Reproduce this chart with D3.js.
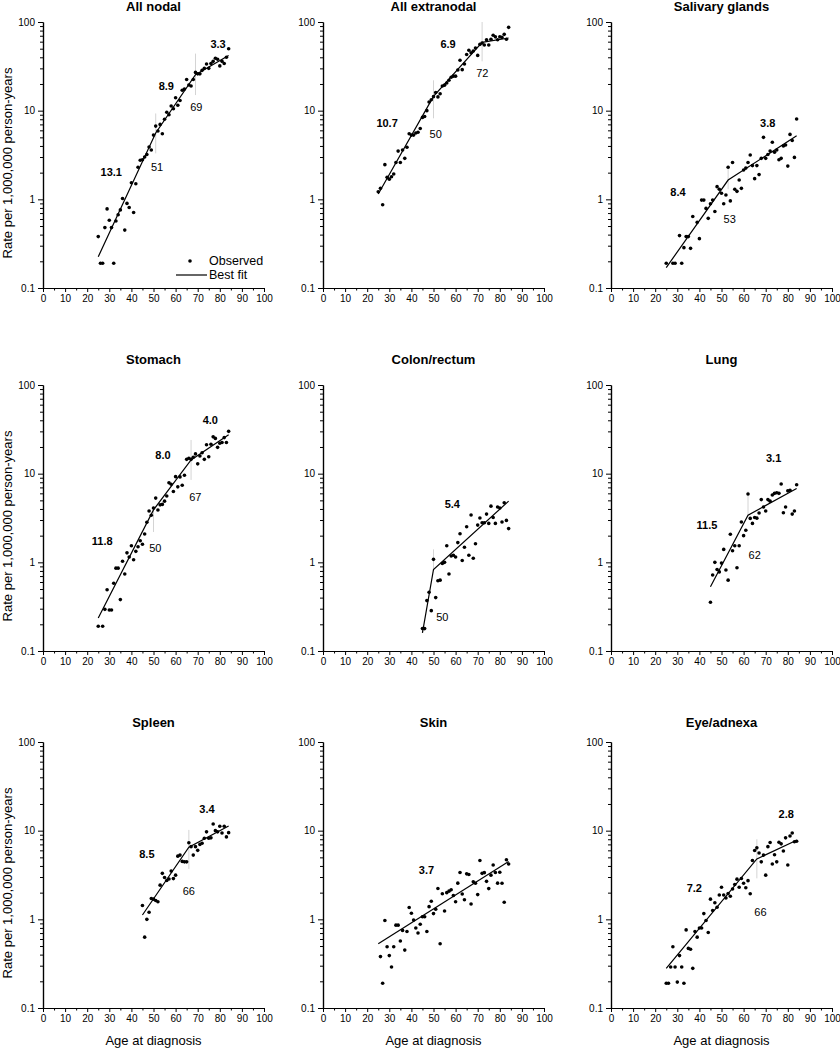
<!DOCTYPE html>
<html><head><meta charset="utf-8">
<script src="https://cdn.jsdelivr.net/npm/d3@7"></script>
<style>
body{margin:0;background:#fff}
svg{display:block}
text{font-family:"Liberation Sans",Arial,Helvetica,sans-serif;fill:#000}
</style>
</head><body>
<svg id="chart" width="840" height="1050"></svg>
<script>
// ---------------- DATA ----------------
const panelTitles = ["All nodal","All extranodal","Salivary glands","Stomach","Colon/rectum","Lung","Spleen","Skin","Eye/adnexa"];
const xTickValues = [0,10,20,30,40,50,60,70,80,90,100];
const yTickValues = [0.1,1,10,100];
const yTickLabels = ["0.1","1","10","100"];
const yAxisTitle = "Rate per 1,000,000 person-years";
const xAxisTitle = "Age at diagnosis";
const legendLabels = ["Observed","Best fit"];

const ages25to84 = [25,26,27,28,29,30,31,32,33,34,35,36,37,38,39,40,41,42,43,44,45,46,47,48,49,50,51,52,53,54,55,56,57,58,59,60,61,62,63,64,65,66,67,68,69,70,71,72,73,74,75,76,77,78,79,80,81,82,83,84];
const ages45to84 = [45,46,47,48,49,50,51,52,53,54,55,56,57,58,59,60,61,62,63,64,65,66,67,68,69,70,71,72,73,74,75,76,77,78,79,80,81,82,83,84];

// All nodal
const nodalAges = ages25to84;
const nodalRates = [0.38,0.19,0.19,0.48,0.78,0.58,0.48,0.19,0.57,0.67,0.76,1.02,0.45,0.90,0.81,1.54,0.71,1.5,2.3,2.76,2.8,3.0,3.2,3.9,3.6,5.3,6.7,5.9,7.0,5.5,8.0,9.6,9.0,11.3,10.5,14,11.5,13,17,17.5,22.5,19.5,19,22.5,27,26,26,28.5,30,33.6,30,34,36,39,38,32,36,34,40,50];
const nodalFit = [[25,0.225],[51,5.6],[69,25.5],[84,42]];
const nodalBreakBars = [[51,3.3,9.3],[69,15,44]];
const nodalLabels = [[30.9,2.05,"13.1",1],[51.6,2.33,"51",0],[55.8,19,"8.9",1],[69.4,10.9,"69",0],[79.2,56,"3.3",1]];

// All extranodal
const extraAges = ages25to84;
const extraRates = [1.22,1.33,0.87,2.46,1.77,1.69,1.8,1.93,2.6,3.5,2.6,3.6,2.9,3.86,5.5,5.3,5.3,5.6,5.7,6.3,8.4,8.6,10,12.5,13.3,14.4,16,14.3,15.5,19,19.4,20.5,22,23.8,24.5,24.5,28.8,37,29,33.6,43,48,45,47,51,42,56,58,55,63,55,64,71,68,63,68,67,72.6,64,87];
const extraFit = [[25,1.15],[50,14.5],[72,59],[84,66]];
const extraBreakBars = [[50,8.2,22],[72,36,100]];
const extraLabels = [[29,7.3,"10.7",1],[51,5.5,"50",0],[56.6,56,"6.9",1],[72.1,26.8,"72",0]];

// Salivary glands
const salivaryAges = [25,28,29,31,32,33,34,35,36,37,39,40,41,42,43,44,45,46,47,48,49,50,51,52,53,54,55,56,57,58,59,60,61,62,63,64,65,66,67,68,69,70,71,72,73,74,75,76,77,78,79,80,81,82,83,84];
const salivaryRates = [0.19,0.19,0.19,0.39,0.19,0.285,0.38,0.38,0.28,0.64,0.55,0.36,0.98,0.98,0.79,0.61,0.89,0.98,0.73,1.39,1.3,1.17,0.89,1.12,2.3,0.96,2.6,1.3,1.23,1.65,1.33,2.14,2.25,2.6,3.16,2.4,1.71,2.4,1.9,2.9,5.0,2.9,3.2,3.5,4.4,3.4,3.6,2.8,2.9,4.0,4.1,2.37,5.4,4.6,2.97,8.05];
const salivaryFit = [[25,0.17],[53,1.65],[84,5.2]];
const salivaryBreakBars = [[53,1.3,2.4]];
const salivaryLabels = [[30.3,1.19,"8.4",1],[53.7,0.6,"53",0],[70.9,7.3,"3.8",1]];

// Stomach
const stomachAges = [25,27,28,29,30,31,32,33,34,35,36,37,38,39,40,41,42,43,44,45,46,47,48,49,50,51,52,53,54,55,56,57,58,59,60,61,62,63,64,65,66,67,68,69,70,71,72,73,74,75,76,77,78,79,80,81,82,83,84];
const stomachRates = [0.19,0.19,0.295,0.49,0.29,0.29,0.58,0.86,0.86,0.38,1.03,0.74,1.28,1.15,1.54,1.07,1.33,1.5,1.75,1.6,2.09,2.83,3.8,3.4,4.1,5.3,3.9,4.45,4.5,4.9,5.6,7.9,7.6,6.3,9.25,7.1,9.2,7.4,9.6,14.5,14.9,14.5,15.3,16.7,12.9,15.8,17.2,14.5,21.2,15.5,21.5,26,25,19.8,22,22.5,25.5,22.5,30];
const stomachFit = [[25,0.235],[50,3.9],[67,14.3],[84,27.5]];
const stomachBreakBars = [[50,2.2,4.3],[67,8.5,24]];
const stomachLabels = [[26.8,1.74,"11.8",1],[50.8,1.44,"50",0],[54.3,16.2,"8.0",1],[68.9,5.4,"67",0],[75.7,40,"4.0",1]];

// Colon/rectum
const colonAges = ages45to84;
const colonRates = [0.179,0.179,0.37,0.46,0.285,1.08,0.40,0.62,0.63,0.97,1.0,1.54,0.74,1.18,1.2,1.15,1.67,2.1,1.05,1.48,2.52,1.2,3.42,1.11,1.62,2.63,3.16,2.8,2.8,3.5,2.75,4.3,3.2,2.75,4.2,4.1,2.85,4.7,2.97,2.4];
const colonFit = [[45,0.16],[50,0.83],[84,4.9]];
const colonBreakBars = [[50,0.8,1.4]];
const colonLabels = [[58.5,4.55,"5.4",1],[54,0.24,"50",0]];

// Lung
const lungAges = ages45to84;
const lungRates = [0.354,0.72,1.0,0.83,0.78,0.98,1.4,0.82,0.63,2.07,1.35,1.54,0.87,1.54,2.85,2.0,2.3,5.9,3.13,2.75,3.2,3.15,3.6,5.1,4.2,3.8,5.1,4.9,5.75,6.0,6.1,6.0,7.65,3.63,4.2,6.4,6.5,3.5,3.8,7.5];
const lungFit = [[45,0.53],[62,3.4],[84,6.8]];
const lungBreakBars = [[62,3.3,6.3]];
const lungLabels = [[43.4,2.64,"11.5",1],[65,1.19,"62",0],[73.6,14.9,"3.1",1]];

// Spleen
const spleenAges = ages45to84;
const spleenRates = [1.43,0.63,1.0,1.2,1.72,1.69,1.63,1.58,2.43,3.3,2.96,2.74,2.85,3.5,2.88,3.15,5.16,5.3,4.5,4.45,4.45,7.3,6.6,5.3,6.6,6.0,7.0,7.2,8.2,9.7,8.2,8.3,11.9,10.0,9.7,11.2,9.4,11.2,8.5,9.5];
const spleenFit = [[45,1.12],[66,6.5],[84,11.3]];
const spleenBreakBars = [[66,3.7,10.2]];
const spleenLabels = [[47,5.5,"8.5",1],[66,2.08,"66",0],[74.2,17.7,"3.4",1]];

// Skin
const skinAges = [26,27,28,29,30,31,32,33,34,35,36,37,38,39,40,41,42,43,44,45,46,47,48,49,50,51,52,53,54,55,56,57,58,59,60,61,62,63,64,65,66,67,68,69,70,71,72,73,74,75,76,77,78,79,80,81,82,83,84];
const skinRates = [0.38,0.19,0.97,0.49,0.39,0.29,0.49,0.86,0.86,0.57,0.75,0.45,0.73,1.36,1.17,0.98,0.80,0.70,0.88,1.07,1.07,0.73,1.39,1.6,1.16,1.3,2.23,0.53,1.94,1.24,2.0,2.08,2.16,1.86,1.58,2.56,3.37,1.93,1.66,3.26,3.2,1.49,2.65,2.55,1.9,4.6,3.3,3.36,2.68,2.22,3.15,4.1,3.37,2.56,3.4,2.55,1.56,4.7,4.2];
const skinFit = [[25,0.53],[84,4.5]];
const skinBreakBars = [];
const skinLabels = [[46.8,3.56,"3.7",1]];

// Eye/adnexa
const eyeAges = ages25to84;
const eyeRates = [0.19,0.19,0.29,0.49,0.29,0.196,0.39,0.29,0.19,0.76,0.47,0.46,0.28,0.73,0.63,0.8,0.8,1.16,0.97,0.71,1.69,1.26,1.54,1.37,1.88,2.3,1.88,1.74,1.95,1.82,2.2,2.47,2.84,2.3,2.89,2.55,2.27,2.73,1.94,4.6,5.97,6.4,5.6,4.45,5.3,3.15,6.6,7.35,4.2,5.35,4.45,7.4,7.1,5.9,8.3,4.1,8.7,9.4,7.5,7.6];
const eyeFit = [[25,0.28],[66,4.8],[84,7.8]];
const eyeBreakBars = [[66,2.9,8]];
const eyeLabels = [[37.7,2.27,"7.2",1],[67.6,1.21,"66",0],[79.3,15.2,"2.8",1]];

// ---------------- BUILD ----------------
const panels = [
  {ages:nodalAges, rates:nodalRates, fit:nodalFit, bars:nodalBreakBars, labels:nodalLabels},
  {ages:extraAges, rates:extraRates, fit:extraFit, bars:extraBreakBars, labels:extraLabels},
  {ages:salivaryAges, rates:salivaryRates, fit:salivaryFit, bars:salivaryBreakBars, labels:salivaryLabels},
  {ages:stomachAges, rates:stomachRates, fit:stomachFit, bars:stomachBreakBars, labels:stomachLabels},
  {ages:colonAges, rates:colonRates, fit:colonFit, bars:colonBreakBars, labels:colonLabels},
  {ages:lungAges, rates:lungRates, fit:lungFit, bars:lungBreakBars, labels:lungLabels},
  {ages:spleenAges, rates:spleenRates, fit:spleenFit, bars:spleenBreakBars, labels:spleenLabels},
  {ages:skinAges, rates:skinRates, fit:skinFit, bars:skinBreakBars, labels:skinLabels},
  {ages:eyeAges, rates:eyeRates, fit:eyeFit, bars:eyeBreakBars, labels:eyeLabels}
].map((p,i)=>Object.assign(p,{title:panelTitles[i]}));

const colLeft = [43, 323, 611];
const rowTop = [22, 385, 742];
const titleBase = [11, 364, 727];
const plotW = 221, plotH = 266;

const svg = d3.select("#chart");
const x = d3.scaleLinear().domain([0,100]).range([0,plotW]);
const y = d3.scaleLog().domain([0.1,100]).range([plotH,0]);

const minorY = [];
[0.1,1,10].forEach(d=>{ for(let k=2;k<=9;k++) minorY.push(+(d*k).toPrecision(3)); });
const minorX = xTickValues.slice(0,-1).map(v=>v+5);

panels.forEach((p,i)=>{
  const col = i%3, row = Math.floor(i/3);
  const g = svg.append("g").attr("transform",`translate(${colLeft[col]},${rowTop[row]})`);

  // title
  svg.append("text").attr("x",colLeft[col]+plotW/2).attr("y",titleBase[row])
    .attr("text-anchor","middle").style("font-size","13px").style("font-weight","bold").text(p.title);

  // breakpoint marker bars
  g.selectAll("line.bb").data(p.bars).enter().append("line").attr("class","bb")
    .attr("x1",d=>x(d[0])).attr("x2",d=>x(d[0])).attr("y1",d=>y(d[1])).attr("y2",d=>y(d[2]))
    .attr("stroke","#d4d4d4").attr("stroke-width",1);

  // axes
  const yMajor = d3.axisLeft(y).tickValues(yTickValues).tickFormat((d,k)=>yTickLabels[k]).tickSize(5).tickPadding(3).tickSizeOuter(0);
  const yMinor = d3.axisLeft(y).tickValues(minorY).tickFormat("").tickSize(3).tickSizeOuter(0);
  const xMajor = d3.axisBottom(x).tickValues(xTickValues).tickFormat(d3.format("d")).tickSize(4).tickPadding(3).tickSizeOuter(0);
  const xMinor = d3.axisBottom(x).tickValues(minorX).tickFormat("").tickSize(2.5).tickSizeOuter(0);

  const ga = g.append("g").call(yMajor);
  g.append("g").call(yMinor);
  const gx = g.append("g").attr("transform",`translate(0,${plotH})`).call(xMajor);
  g.append("g").attr("transform",`translate(0,${plotH})`).call(xMinor);
  g.selectAll(".domain").attr("stroke","#000").attr("stroke-width",1.2);
  g.selectAll(".tick line").attr("stroke","#000").attr("stroke-width",1);
  g.selectAll(".tick text").style("font-size","10px").style("font-family","'Liberation Sans',Arial,sans-serif").attr("fill","#000");

  // fit line
  const line = d3.line().x(d=>x(d[0])).y(d=>y(d[1]));
  g.append("path").datum(p.fit).attr("d",line).attr("fill","none").attr("stroke","#000").attr("stroke-width",1.2);

  // observed points
  const pts = p.ages.map((a,k)=>[a,p.rates[k]]);
  g.selectAll("circle.pt").data(pts).enter().append("circle").attr("class","pt")
    .attr("cx",d=>x(d[0])).attr("cy",d=>y(d[1])).attr("r",1.8).attr("fill","#000");

  // annotations
  g.selectAll("text.ann").data(p.labels).enter().append("text").attr("class","ann")
    .attr("x",d=>x(d[0])).attr("y",d=>y(d[1])).attr("dy","0.35em").attr("text-anchor","middle")
    .style("font-size","11px").style("font-weight",d=>d[3]?"bold":"normal").text(d=>d[2]);

  // y axis title on left column
  if(col===0){
    svg.append("text").attr("transform",`translate(12,${rowTop[row]+plotH/2+8}) rotate(-90)`)
      .attr("text-anchor","middle").style("font-size","13px").text(yAxisTitle);
  }
  // x axis title on bottom row
  if(row===2){
    svg.append("text").attr("x",colLeft[col]+plotW/2).attr("y",rowTop[row]+plotH+37)
      .attr("text-anchor","middle").style("font-size","13px").text(xAxisTitle);
  }
  // legend in first panel
  if(i===0){
    const lg = g.append("g").attr("transform",`translate(${plotW-88},${plotH-27})`);
    lg.append("circle").attr("cx",14).attr("cy",0).attr("r",1.8).attr("fill","#000");
    lg.append("text").attr("x",33).attr("y",0).attr("dy","0.35em").style("font-size","12.5px").text(legendLabels[0]);
    lg.append("line").attr("x1",0).attr("x2",31).attr("y1",14).attr("y2",14).attr("stroke","#000").attr("stroke-width",1.2);
    lg.append("text").attr("x",33).attr("y",14).attr("dy","0.35em").style("font-size","12.5px").text(legendLabels[1]);
  }
});
</script>
</body></html>
